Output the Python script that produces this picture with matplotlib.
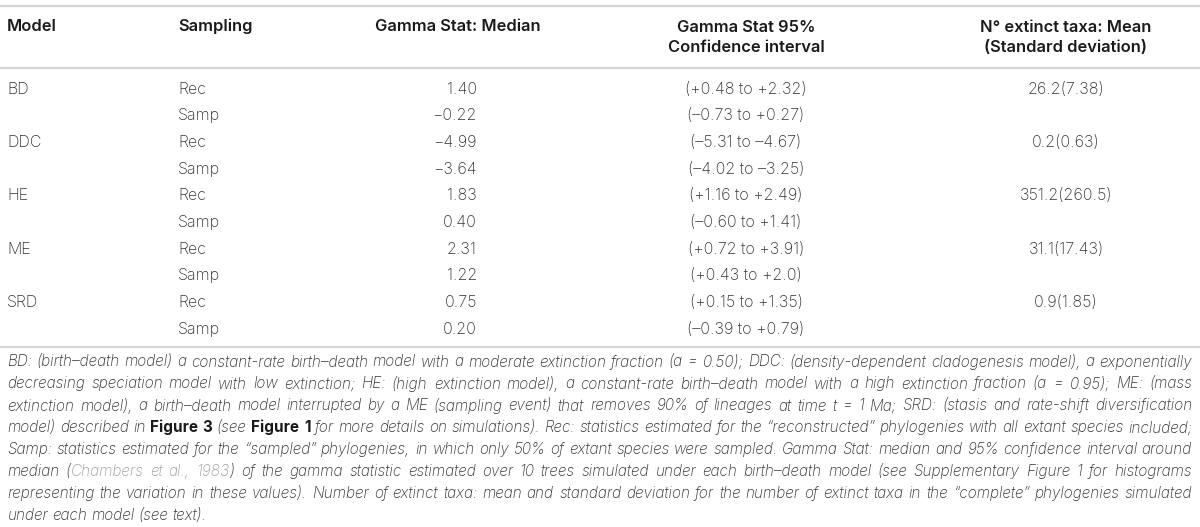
import matplotlib
matplotlib.use("Agg")
import matplotlib.pyplot as plt

# table data
models = ["BD", "", "DDC", "", "HE", "", "ME", "", "SRD", ""]
sampling = ["Rec", "Samp"] * 5
median = [1.40, -0.22, -4.99, -3.64, 1.83, 0.40, 2.31, 1.22, 0.75, 0.20]
conf_int = ["(+0.48 to +2.32)", "(–0.73 to +0.27)", "(–5.31 to –4.67)", "(–4.02 to –3.25)",
            "(+1.16 to +2.49)", "(–0.60 to +1.41)", "(+0.72 to +3.91)", "(+0.43 to +2.0)",
            "(+0.15 to +1.35)", "(–0.39 to +0.79)"]
extinct = ["26.2(7.38)", "", "0.2(0.63)", "", "351.2(260.5)", "", "31.1(17.43)", "",
           "0.9(1.85)", ""]
headers = ["Model", "Sampling", "Gamma Stat: Median", "Gamma Stat 95%\nConfidence interval",
           "N° extinct taxa: Mean\n(Standard deviation)"]

# caption, one list per printed line: (text, style) with i=italic, b=bold, g=grey link
caption = [
    [("BD: (birth–death model) a constant-rate birth–death model with a moderate extinction fraction (a = 0.50); DDC: (density-dependent cladogenesis model), a exponentially", "i")],
    [("decreasing speciation model with low extinction; HE: (high extinction model), a constant-rate birth–death model with a high extinction fraction (a = 0.95); ME: (mass", "i")],
    [("extinction model), a birth–death model interrupted by a ME (sampling event) that removes 90% of lineages at time t = 1 Ma; SRD: (stasis and rate-shift diversification", "i")],
    [("model) described in ", "i"), ("Figure 3", "b"), (" (see ", "i"), ("Figure 1", "b"),
     (" for more details on simulations). Rec: statistics estimated for the “reconstructed” phylogenies with all extant species included;", "i")],
    [("Samp: statistics estimated for the “sampled” phylogenies, in which only 50% of extant species were sampled. Gamma Stat: median and 95% confidence interval around", "i")],
    [("median (", "i"), ("Chambers et al., 1983", "g"),
     (") of the gamma statistic estimated over 10 trees simulated under each birth–death model (see Supplementary Figure 1 for histograms", "i")],
    [("representing the variation in these values). Number of extinct taxa: mean and standard deviation for the number of extinct taxa in the “complete” phylogenies simulated", "i")],
    [("under each model (see text).", "i")],
]

FONT = ["Inter", "Liberation Sans", "DejaVu Sans"]

fig = plt.figure(figsize=(12, 5.27), dpi=100)
ax = fig.add_axes([0, 0, 1, 1])
ax.set_xlim(0, 1200)
ax.set_ylim(527, 0)
ax.axis("off")
fig.canvas.draw()
r = fig.canvas.get_renderer()


def width(s, **kw):
    t = ax.text(0, 0, s, **kw)
    w = t.get_window_extent(r).width
    t.remove()
    return w


def fit(s, target, **kw):
    # font size so that s is about target pixels wide
    return 10 * target / width(s, fontsize=10, **kw)


body = dict(family=FONT, fontweight="light", color="#333333")
head = dict(family=FONT, fontweight="semibold", color="#1a1a1a")
ital = dict(family=FONT, fontweight="light", style="italic")
body["fontsize"] = fit(conf_int[0], 122, **{k: v for k, v in body.items() if k != "color"})
head["fontsize"] = fit(headers[2], 165, family=FONT, fontweight="semibold")
cap_size = fit(caption[0][0][0], 1178, family=FONT, fontweight="light", style="italic")
styles = {
    "i": dict(ital, fontsize=cap_size, color="#333333"),
    "b": dict(family=FONT, fontweight="bold", fontsize=cap_size, color="#1a1a1a"),
    "g": dict(ital, fontsize=cap_size, color="#a0a0a0"),
}

# rules
for y in (5.5, 68, 347):
    ax.plot([0, 1200], [y, y], color="#d6d6d6", lw=1.6, solid_capstyle="butt")

# header
hy = 37.5
ax.text(7, 26.5, headers[0], ha="left", va="center", **head)
ax.text(178, 26.5, headers[1], ha="left", va="center", **head)
ax.text(458, 26.5, headers[2], ha="center", va="center", **head)
ax.text(746, hy, headers[3], ha="center", va="center", linespacing=1.42, **head)
ax.text(1066, hy, headers[4], ha="center", va="center", linespacing=1.42, **head)

# rows
row0, step = 89, 26.7
for i in range(len(sampling)):
    y = row0 + i * step
    ax.text(7, y, models[i], ha="left", va="center", **body)
    ax.text(178, y, sampling[i], ha="left", va="center", **body)
    ax.text(477, y, f"{median[i]:.2f}".replace("-", "−"), ha="right", va="center", **body)
    ax.text(746, y, conf_int[i], ha="center", va="center", **body)
    ax.text(1066, y, extinct[i], ha="center", va="center", **body)

# justified caption
space = width("a a", **styles["i"]) - width("aa", **styles["i"])
left, right = 7, 1192
cap0, cap_step = 362, 21.9
for li, segs in enumerate(caption):
    words = [[]]
    for text, st in segs:
        parts = text.split(" ")
        for k, p in enumerate(parts):
            if k > 0:
                words.append([])
            if p:
                words[-1].append((p, st))
    words = [w for w in words if w]
    wl = [[width(p, **styles[st]) for p, st in w] for w in words]
    total = sum(sum(w) for w in wl)
    if li < len(caption) - 1:
        gap = (right - left - total) / (len(words) - 1)
    else:
        gap = space
    x = left
    y = cap0 + li * cap_step
    for w, ws in zip(words, wl):
        for (p, st), pw in zip(w, ws):
            ax.text(x, y, p, ha="left", va="center", **styles[st])
            x += pw
        x += gap

fig.savefig("out.png", dpi=100)
